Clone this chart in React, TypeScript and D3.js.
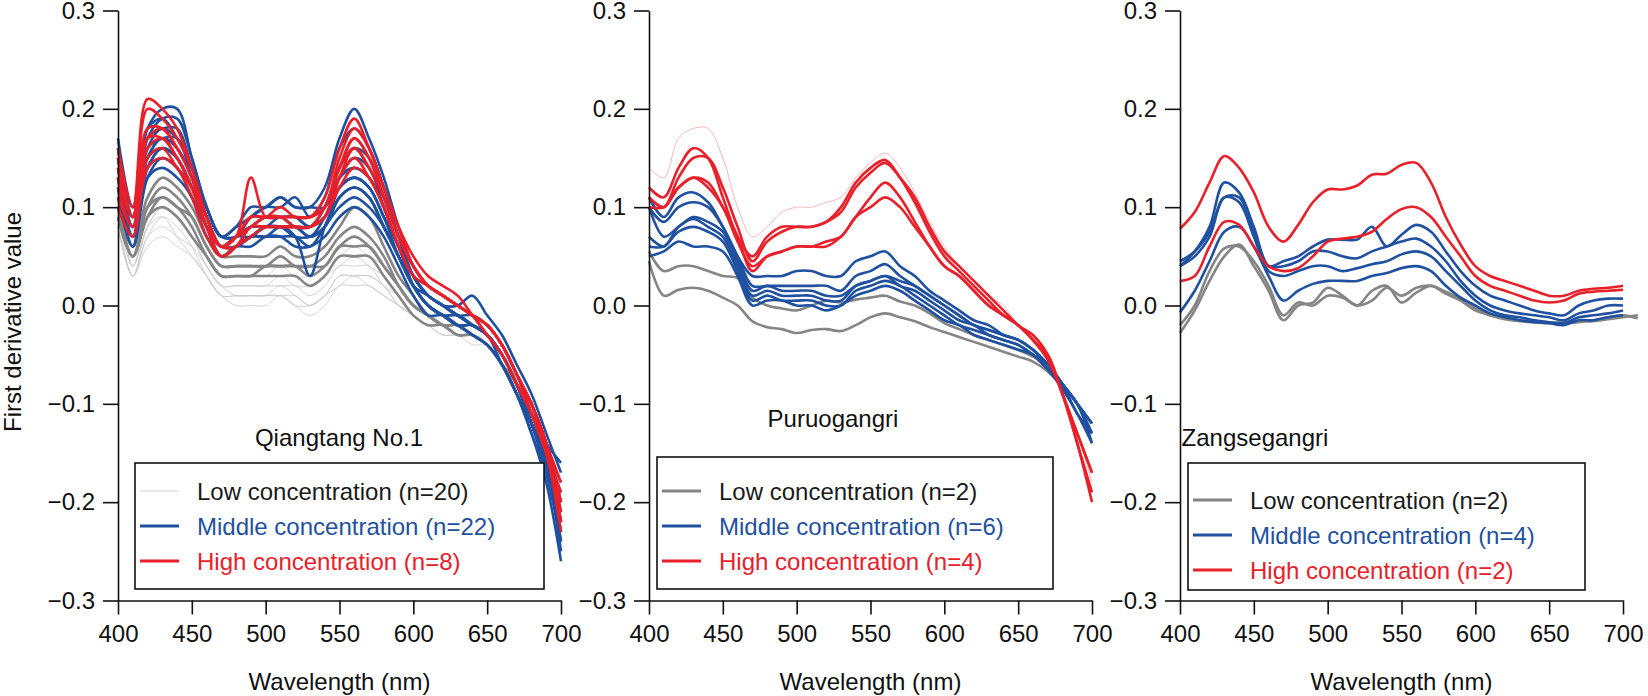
import React, { useEffect, useRef } from 'react';
import * as d3 from 'd3';

// wavelength grid (nm); most series stop at 700, a few run one step past it
const WAVELENGTHS = [400, 410, 420, 430, 440, 450, 460, 470, 480, 490, 500, 510, 520, 530, 540, 550, 560, 570, 580, 590, 600, 610, 620, 630, 640, 650, 660, 670, 680, 690, 700, 710];
const X_TICKS = [400, 450, 500, 550, 600, 650, 700];
const Y_TICKS = [-0.3, -0.2, -0.1, 0.0, 0.1, 0.2, 0.3];

const PANEL_TITLES = ['Qiangtang No.1', 'Puruogangri', 'Zangsegangri'];
const LOW_LABELS = ['Low concentration (n=20)', 'Low concentration (n=2)', 'Low concentration (n=2)'];
const MID_LABELS = ['Middle concentration (n=22)', 'Middle concentration (n=6)', 'Middle concentration (n=4)'];
const HIGH_LABELS = ['High concentration (n=8)', 'High concentration (n=4)', 'High concentration (n=2)'];

// Qiangtang No.1
const QT_LOW_THIN = [
  [0.09, 0.03, 0.08, 0.10, 0.09, 0.07, 0.04, 0.02, 0.02, 0.02, 0.02, 0.03, 0.02, 0.02, 0.03, 0.04, 0.05, 0.04, 0.03, 0.01, -0.01, -0.02, -0.02, -0.03, -0.03, -0.04, -0.06, -0.09, -0.12, -0.16, -0.20],
  [0.08, 0.03, 0.07, 0.09, 0.08, 0.06, 0.03, 0.01, 0.01, 0.01, 0.01, 0.02, 0.01, 0.00, 0.01, 0.03, 0.03, 0.03, 0.02, 0.00, -0.01, -0.02, -0.02, -0.03, -0.03, -0.04, -0.06, -0.09, -0.12, -0.16, -0.19],
  [0.12, 0.04, 0.08, 0.09, 0.07, 0.05, 0.03, 0.01, 0.01, 0.01, 0.01, 0.01, 0.00, 0.00, 0.01, 0.02, 0.03, 0.02, 0.01, 0.00, -0.01, -0.02, -0.02, -0.03, -0.03, -0.04, -0.06, -0.09, -0.13, -0.17, -0.21],
  [0.09, 0.04, 0.09, 0.11, 0.10, 0.08, 0.05, 0.03, 0.03, 0.03, 0.03, 0.04, 0.03, 0.03, 0.04, 0.05, 0.06, 0.05, 0.04, 0.02, 0.00, -0.01, -0.02, -0.02, -0.03, -0.04, -0.06, -0.09, -0.12, -0.16, -0.22],
  [0.08, 0.03, 0.06, 0.07, 0.06, 0.05, 0.03, 0.01, 0.00, 0.00, 0.00, 0.01, 0.00, -0.01, 0.00, 0.02, 0.02, 0.02, 0.01, 0.00, -0.01, -0.02, -0.03, -0.03, -0.04, -0.04, -0.06, -0.09, -0.12, -0.16, -0.20],
  [0.14, 0.04, 0.08, 0.10, 0.09, 0.07, 0.04, 0.02, 0.02, 0.02, 0.02, 0.02, 0.02, 0.01, 0.02, 0.04, 0.04, 0.04, 0.02, 0.01, -0.01, -0.02, -0.02, -0.03, -0.03, -0.04, -0.06, -0.09, -0.12, -0.16, -0.20],
  [0.10, 0.05, 0.09, 0.11, 0.10, 0.08, 0.05, 0.03, 0.03, 0.03, 0.03, 0.03, 0.03, 0.02, 0.03, 0.05, 0.05, 0.05, 0.03, 0.01, -0.01, -0.02, -0.02, -0.03, -0.03, -0.04, -0.06, -0.09, -0.12, -0.16, -0.20],
  [0.08, 0.03, 0.07, 0.08, 0.07, 0.06, 0.04, 0.02, 0.01, 0.01, 0.01, 0.01, 0.01, 0.00, 0.01, 0.03, 0.03, 0.03, 0.02, 0.00, -0.01, -0.02, -0.03, -0.03, -0.03, -0.04, -0.06, -0.09, -0.12, -0.16, -0.19],
];
const QT_LOW = [
  [0.10, 0.06, 0.11, 0.13, 0.12, 0.10, 0.07, 0.05, 0.05, 0.05, 0.05, 0.06, 0.05, 0.05, 0.06, 0.08, 0.10, 0.09, 0.06, 0.03, 0.01, -0.01, -0.02, -0.02, -0.03, -0.04, -0.06, -0.08, -0.12, -0.16, -0.20],
  [0.10, 0.05, 0.10, 0.12, 0.11, 0.09, 0.06, 0.04, 0.04, 0.04, 0.04, 0.05, 0.04, 0.04, 0.05, 0.07, 0.08, 0.07, 0.05, 0.02, 0.00, -0.01, -0.02, -0.02, -0.03, -0.04, -0.06, -0.08, -0.12, -0.16, -0.19],
  [0.09, 0.05, 0.09, 0.11, 0.10, 0.08, 0.05, 0.03, 0.03, 0.03, 0.04, 0.04, 0.04, 0.03, 0.04, 0.06, 0.07, 0.06, 0.04, 0.02, 0.00, -0.01, -0.02, -0.03, -0.03, -0.04, -0.06, -0.09, -0.12, -0.16, -0.20],
  [0.09, 0.05, 0.09, 0.10, 0.09, 0.07, 0.05, 0.03, 0.03, 0.03, 0.03, 0.03, 0.03, 0.02, 0.03, 0.05, 0.05, 0.05, 0.03, 0.01, -0.01, -0.02, -0.02, -0.03, -0.03, -0.04, -0.06, -0.09, -0.12, -0.16, -0.21],
  [0.10, 0.06, 0.10, 0.11, 0.10, 0.09, 0.06, 0.04, 0.04, 0.04, 0.04, 0.04, 0.04, 0.04, 0.04, 0.06, 0.06, 0.06, 0.04, 0.02, 0.00, -0.01, -0.02, -0.02, -0.03, -0.04, -0.06, -0.09, -0.12, -0.15, -0.18],
];
const QT_MID = [
  [0.17, 0.10, 0.18, 0.20, 0.20, 0.15, 0.10, 0.07, 0.08, 0.09, 0.10, 0.11, 0.10, 0.10, 0.12, 0.17, 0.20, 0.17, 0.13, 0.08, 0.04, 0.02, 0.01, 0.00, -0.01, -0.02, -0.04, -0.07, -0.10, -0.14, -0.20],
  [0.15, 0.09, 0.17, 0.19, 0.19, 0.15, 0.10, 0.07, 0.07, 0.09, 0.10, 0.10, 0.11, 0.09, 0.11, 0.16, 0.18, 0.16, 0.12, 0.07, 0.03, 0.01, 0.00, -0.01, -0.01, -0.02, -0.04, -0.07, -0.11, -0.15, -0.22],
  [0.14, 0.08, 0.16, 0.18, 0.17, 0.14, 0.09, 0.06, 0.07, 0.08, 0.09, 0.09, 0.09, 0.08, 0.10, 0.14, 0.16, 0.15, 0.11, 0.07, 0.03, 0.01, 0.00, -0.01, -0.02, -0.03, -0.05, -0.08, -0.11, -0.16, -0.25],
  [0.13, 0.07, 0.15, 0.17, 0.16, 0.13, 0.09, 0.06, 0.07, 0.08, 0.08, 0.09, 0.08, 0.08, 0.09, 0.13, 0.14, 0.13, 0.10, 0.06, 0.03, 0.01, 0.00, -0.01, -0.02, -0.03, -0.05, -0.08, -0.12, -0.16, -0.23],
  [0.12, 0.07, 0.14, 0.16, 0.15, 0.12, 0.08, 0.06, 0.06, 0.07, 0.08, 0.08, 0.08, 0.07, 0.09, 0.12, 0.13, 0.12, 0.09, 0.06, 0.02, 0.00, -0.01, -0.01, -0.02, -0.03, -0.05, -0.08, -0.11, -0.15, -0.19],
  [0.16, 0.09, 0.17, 0.18, 0.18, 0.14, 0.10, 0.07, 0.07, 0.08, 0.09, 0.09, 0.09, 0.08, 0.10, 0.13, 0.14, 0.13, 0.10, 0.06, 0.03, 0.01, 0.00, -0.01, -0.02, -0.03, -0.05, -0.08, -0.12, -0.17, -0.24],
  [0.11, 0.06, 0.13, 0.15, 0.14, 0.12, 0.08, 0.05, 0.06, 0.07, 0.07, 0.08, 0.07, 0.03, 0.08, 0.11, 0.12, 0.11, 0.08, 0.05, 0.02, 0.00, -0.01, -0.02, -0.02, -0.03, -0.05, -0.08, -0.12, -0.16, -0.22],
  [0.13, 0.08, 0.15, 0.17, 0.16, 0.13, 0.09, 0.06, 0.07, 0.08, 0.08, 0.08, 0.08, 0.07, 0.08, 0.11, 0.12, 0.11, 0.08, 0.05, 0.02, 0.00, -0.01, -0.02, -0.03, -0.04, -0.06, -0.09, -0.13, -0.18, -0.26],
  [0.12, 0.08, 0.14, 0.15, 0.14, 0.11, 0.08, 0.05, 0.06, 0.07, 0.07, 0.07, 0.07, 0.06, 0.08, 0.10, 0.11, 0.10, 0.08, 0.05, 0.02, 0.00, -0.01, -0.02, -0.02, -0.03, -0.05, -0.08, -0.12, -0.16, -0.21],
  [0.15, 0.09, 0.16, 0.17, 0.17, 0.13, 0.09, 0.06, 0.07, 0.07, 0.08, 0.08, 0.08, 0.08, 0.09, 0.12, 0.13, 0.12, 0.09, 0.06, 0.02, 0.00, -0.01, -0.02, -0.02, -0.03, -0.05, -0.08, -0.11, -0.14, -0.16],
  [0.14, 0.08, 0.15, 0.16, 0.15, 0.12, 0.08, 0.05, 0.06, 0.07, 0.08, 0.08, 0.07, 0.07, 0.08, 0.11, 0.12, 0.11, 0.08, 0.05, 0.02, 0.01, 0.00, 0.00, 0.01, -0.01, -0.03, -0.06, -0.09, -0.13, -0.17],
  [0.12, 0.06, 0.13, 0.14, 0.13, 0.11, 0.07, 0.05, 0.06, 0.06, 0.07, 0.07, 0.06, 0.06, 0.07, 0.09, 0.10, 0.09, 0.07, 0.04, 0.01, -0.01, -0.01, -0.02, -0.03, -0.04, -0.06, -0.09, -0.13, -0.17, -0.23],
  [0.16, 0.10, 0.18, 0.19, 0.17, 0.14, 0.10, 0.07, 0.08, 0.10, 0.10, 0.11, 0.10, 0.10, 0.10, 0.13, 0.15, 0.14, 0.10, 0.06, 0.03, 0.01, 0.00, -0.01, -0.02, -0.03, -0.05, -0.08, -0.12, -0.16, -0.20],
  [0.13, 0.07, 0.14, 0.16, 0.15, 0.12, 0.08, 0.06, 0.06, 0.07, 0.08, 0.08, 0.08, 0.07, 0.08, 0.12, 0.13, 0.12, 0.09, 0.05, 0.02, 0.00, -0.01, -0.01, -0.02, -0.03, -0.06, -0.09, -0.12, -0.16, -0.24],
];
const QT_HIGH = [
  [0.16, 0.10, 0.21, 0.20, 0.18, 0.14, 0.09, 0.06, 0.07, 0.13, 0.09, 0.09, 0.09, 0.09, 0.11, 0.16, 0.19, 0.16, 0.12, 0.08, 0.05, 0.03, 0.02, 0.01, -0.01, -0.03, -0.05, -0.08, -0.11, -0.15, -0.22],
  [0.14, 0.09, 0.20, 0.19, 0.17, 0.14, 0.09, 0.06, 0.07, 0.09, 0.09, 0.09, 0.09, 0.09, 0.10, 0.15, 0.18, 0.16, 0.12, 0.08, 0.04, 0.02, 0.01, 0.00, -0.01, -0.02, -0.04, -0.07, -0.10, -0.15, -0.20],
  [0.13, 0.09, 0.18, 0.18, 0.16, 0.13, 0.08, 0.06, 0.07, 0.08, 0.09, 0.09, 0.08, 0.08, 0.10, 0.14, 0.17, 0.15, 0.11, 0.07, 0.04, 0.02, 0.01, 0.00, -0.01, -0.02, -0.04, -0.07, -0.11, -0.15, -0.23],
  [0.12, 0.08, 0.16, 0.17, 0.15, 0.12, 0.08, 0.05, 0.06, 0.08, 0.08, 0.08, 0.08, 0.08, 0.09, 0.13, 0.16, 0.14, 0.11, 0.07, 0.04, 0.02, 0.01, 0.00, -0.01, -0.02, -0.04, -0.07, -0.10, -0.14, -0.18],
  [0.11, 0.08, 0.15, 0.16, 0.14, 0.12, 0.08, 0.06, 0.06, 0.08, 0.08, 0.08, 0.08, 0.08, 0.09, 0.13, 0.15, 0.13, 0.10, 0.06, 0.03, 0.02, 0.01, 0.00, -0.01, -0.02, -0.04, -0.07, -0.10, -0.14, -0.21],
  [0.15, 0.09, 0.17, 0.18, 0.16, 0.13, 0.09, 0.06, 0.07, 0.09, 0.09, 0.10, 0.09, 0.09, 0.10, 0.14, 0.17, 0.15, 0.11, 0.07, 0.04, 0.02, 0.01, 0.00, -0.01, -0.03, -0.05, -0.08, -0.11, -0.15, -0.19],
  [0.10, 0.07, 0.14, 0.15, 0.14, 0.11, 0.07, 0.05, 0.06, 0.07, 0.08, 0.08, 0.08, 0.08, 0.09, 0.12, 0.14, 0.13, 0.10, 0.06, 0.03, 0.02, 0.01, 0.00, -0.01, -0.02, -0.04, -0.07, -0.10, -0.14, -0.22],
  [0.13, 0.09, 0.17, 0.17, 0.15, 0.12, 0.08, 0.06, 0.07, 0.08, 0.09, 0.09, 0.09, 0.09, 0.10, 0.14, 0.16, 0.14, 0.11, 0.07, 0.04, 0.02, 0.01, 0.00, -0.01, -0.02, -0.04, -0.07, -0.10, -0.14, -0.20],
];

// Puruogangri
const PR_LOW = [
  [0.055, 0.035, 0.04, 0.04, 0.035, 0.03, 0.028, 0.008, 0.0, -0.003, -0.005, 0.0, 0.005, 0.003, 0.006, 0.008, 0.01, 0.004, 0.0, -0.008, -0.018, -0.024, -0.03, -0.035, -0.04, -0.045, -0.052, -0.062, -0.08, -0.10, -0.12],
  [0.045, 0.01, 0.016, 0.018, 0.015, 0.008, 0.0, -0.016, -0.022, -0.024, -0.028, -0.025, -0.024, -0.026, -0.02, -0.012, -0.008, -0.012, -0.016, -0.022, -0.027, -0.032, -0.037, -0.042, -0.047, -0.052, -0.057, -0.067, -0.082, -0.10, -0.13],
];
const PR_MID = [
  [0.11, 0.09, 0.11, 0.115, 0.105, 0.08, 0.05, 0.03, 0.03, 0.03, 0.035, 0.035, 0.03, 0.03, 0.045, 0.05, 0.055, 0.04, 0.03, 0.015, 0.005, -0.005, -0.015, -0.02, -0.03, -0.035, -0.045, -0.06, -0.08, -0.10, -0.12],
  [0.10, 0.085, 0.10, 0.105, 0.10, 0.08, 0.05, 0.02, 0.02, 0.02, 0.02, 0.02, 0.02, 0.015, 0.03, 0.035, 0.042, 0.03, 0.02, 0.01, 0.0, -0.01, -0.02, -0.025, -0.03, -0.035, -0.045, -0.06, -0.08, -0.10, -0.13],
  [0.10, 0.07, 0.08, 0.09, 0.085, 0.075, 0.045, 0.015, 0.02, 0.015, 0.015, 0.015, 0.01, 0.01, 0.02, 0.025, 0.03, 0.025, 0.02, 0.01, 0.0, -0.01, -0.02, -0.025, -0.03, -0.035, -0.045, -0.06, -0.08, -0.10, -0.14],
  [0.07, 0.06, 0.08, 0.088, 0.08, 0.07, 0.04, 0.01, 0.015, 0.01, 0.01, 0.01, 0.005, 0.005, 0.02, 0.025, 0.03, 0.02, 0.015, 0.005, -0.005, -0.015, -0.02, -0.03, -0.035, -0.04, -0.05, -0.06, -0.08, -0.11, -0.13],
  [0.06, 0.06, 0.075, 0.08, 0.075, 0.065, 0.035, 0.005, 0.01, 0.005, 0.005, 0.005, 0.0, 0.0, 0.015, 0.02, 0.025, 0.02, 0.01, 0.0, -0.01, -0.02, -0.025, -0.03, -0.035, -0.04, -0.05, -0.065, -0.08, -0.10, -0.12],
  [0.05, 0.055, 0.065, 0.06, 0.06, 0.055, 0.03, 0.0, 0.005, 0.005, 0.0, 0.0, -0.005, 0.0, 0.01, 0.015, 0.02, 0.015, 0.005, -0.005, -0.015, -0.02, -0.03, -0.035, -0.04, -0.045, -0.05, -0.065, -0.085, -0.11, -0.14],
];
const PR_HIGH_THIN = [
  [0.14, 0.13, 0.17, 0.18, 0.18, 0.15, 0.10, 0.07, 0.08, 0.095, 0.10, 0.10, 0.105, 0.11, 0.13, 0.145, 0.155, 0.14, 0.115, 0.085, 0.06, 0.04, 0.025, 0.01, 0.0, -0.02, -0.03, -0.05, -0.09, -0.13, -0.18],
];
const PR_HIGH = [
  [0.12, 0.11, 0.14, 0.16, 0.15, 0.11, 0.07, 0.05, 0.07, 0.08, 0.08, 0.08, 0.085, 0.10, 0.125, 0.14, 0.148, 0.13, 0.105, 0.075, 0.05, 0.035, 0.02, 0.005, -0.01, -0.02, -0.035, -0.05, -0.09, -0.13, -0.17],
  [0.11, 0.10, 0.13, 0.15, 0.15, 0.12, 0.08, 0.045, 0.065, 0.075, 0.08, 0.08, 0.085, 0.095, 0.12, 0.135, 0.145, 0.13, 0.11, 0.08, 0.055, 0.04, 0.025, 0.01, -0.005, -0.02, -0.03, -0.05, -0.09, -0.14, -0.20],
  [0.10, 0.10, 0.12, 0.13, 0.125, 0.10, 0.07, 0.035, 0.05, 0.055, 0.06, 0.06, 0.06, 0.07, 0.09, 0.11, 0.125, 0.11, 0.085, 0.06, 0.04, 0.03, 0.015, 0.0, -0.01, -0.02, -0.035, -0.055, -0.09, -0.13, -0.17],
  [0.11, 0.10, 0.12, 0.13, 0.12, 0.10, 0.065, 0.04, 0.05, 0.055, 0.06, 0.06, 0.065, 0.07, 0.09, 0.10, 0.11, 0.10, 0.08, 0.06, 0.04, 0.03, 0.015, 0.0, -0.01, -0.02, -0.035, -0.055, -0.09, -0.14, -0.19],
];

// Zangsegangri
const ZS_LOW = [
  [-0.028, -0.005, 0.025, 0.05, 0.062, 0.04, 0.015, -0.015, 0.0, 0.003, 0.018, 0.01, 0.0, 0.015, 0.02, 0.003, 0.013, 0.02, 0.012, 0.005, -0.005, -0.01, -0.013, -0.015, -0.016, -0.017, -0.018, -0.017, -0.015, -0.012, -0.01, -0.013],
  [-0.02, 0.0, 0.035, 0.058, 0.06, 0.045, 0.02, -0.01, 0.003, 0.0, 0.01, 0.008, 0.0, 0.005, 0.018, 0.01, 0.018, 0.02, 0.014, 0.006, -0.003, -0.01, -0.014, -0.016, -0.017, -0.018, -0.017, -0.016, -0.016, -0.014, -0.012, -0.01],
];
const ZS_MID = [
  [0.045, 0.055, 0.075, 0.11, 0.11, 0.075, 0.04, 0.045, 0.05, 0.06, 0.067, 0.067, 0.067, 0.08, 0.06, 0.072, 0.082, 0.075, 0.055, 0.035, 0.02, 0.01, 0.005, 0.0, -0.005, -0.008, -0.01, 0.0, 0.005, 0.007, 0.007],
  [0.04, 0.055, 0.08, 0.125, 0.115, 0.08, 0.04, 0.04, 0.045, 0.055, 0.055, 0.05, 0.048, 0.055, 0.06, 0.065, 0.068, 0.06, 0.045, 0.025, 0.01, 0.0, -0.005, -0.008, -0.01, -0.012, -0.015, -0.008, -0.005, 0.0, 0.0],
  [0.04, 0.05, 0.07, 0.11, 0.105, 0.07, 0.035, 0.03, 0.035, 0.04, 0.04, 0.035, 0.038, 0.042, 0.045, 0.052, 0.055, 0.05, 0.035, 0.02, 0.005, -0.005, -0.01, -0.012, -0.015, -0.017, -0.018, -0.012, -0.01, -0.008, -0.005],
  [-0.007, 0.015, 0.045, 0.075, 0.08, 0.06, 0.03, 0.005, 0.015, 0.022, 0.025, 0.025, 0.025, 0.03, 0.033, 0.038, 0.04, 0.035, 0.02, 0.008, 0.0, -0.008, -0.012, -0.015, -0.017, -0.018, -0.02, -0.015, -0.015, -0.012, -0.01],
];
const ZS_HIGH = [
  [0.078, 0.095, 0.125, 0.152, 0.14, 0.115, 0.08, 0.065, 0.082, 0.105, 0.118, 0.118, 0.122, 0.133, 0.134, 0.143, 0.145, 0.125, 0.09, 0.062, 0.04, 0.03, 0.025, 0.02, 0.015, 0.01, 0.01, 0.015, 0.017, 0.018, 0.02],
  [0.025, 0.03, 0.06, 0.085, 0.082, 0.06, 0.04, 0.035, 0.038, 0.05, 0.065, 0.068, 0.07, 0.075, 0.088, 0.098, 0.10, 0.09, 0.07, 0.05, 0.03, 0.02, 0.015, 0.01, 0.005, 0.003, 0.005, 0.012, 0.014, 0.015, 0.016],
];

const GREY = '#858585';
const GREY_THIN = '#c8c8c8';
const BLUE = '#1f51a0';
const RED = '#e8202a';
const PINK_THIN = '#f2a3a6';
const FONT = '"Liberation Sans", Arial, Helvetica, sans-serif';

const WIDTH = 1648;
const HEIGHT = 696;
const PLOT_TOP = 10.5;
const PLOT_BOTTOM = 600.5;
const PLOT_W = 443;

interface LineGroup { lines: number[][]; color: string; width: number }
interface Panel {
  left: number;
  title: string;
  titleX: number;
  titleY: number;
  box: [number, number, number, number];
  entryY: number[];
  groups: LineGroup[];
  legend: { label: string; color: string; textColor: string; width: number }[];
}

const panels: Panel[] = [
  {
    left: 118, title: PANEL_TITLES[0], titleX: 339, titleY: 446,
    box: [135, 463, 544, 589], entryY: [491, 526, 561],
    groups: [
      { lines: QT_LOW_THIN, color: GREY_THIN, width: 0.8 },
      { lines: QT_LOW, color: GREY, width: 2.6 },
      { lines: QT_MID, color: BLUE, width: 2.6 },
      { lines: QT_HIGH, color: RED, width: 2.6 },
    ],
    legend: [
      { label: LOW_LABELS[0], color: GREY_THIN, textColor: '#1a1a1a', width: 0.8 },
      { label: MID_LABELS[0], color: BLUE, textColor: BLUE, width: 3 },
      { label: HIGH_LABELS[0], color: RED, textColor: RED, width: 3 },
    ],
  },
  {
    left: 649, title: PANEL_TITLES[1], titleX: 833, titleY: 427,
    box: [657, 457, 1053, 589], entryY: [491, 526, 561],
    groups: [
      { lines: PR_LOW, color: GREY, width: 2.6 },
      { lines: PR_MID, color: BLUE, width: 2.6 },
      { lines: PR_HIGH_THIN, color: PINK_THIN, width: 0.8 },
      { lines: PR_HIGH, color: RED, width: 2.6 },
    ],
    legend: [
      { label: LOW_LABELS[1], color: GREY, textColor: '#1a1a1a', width: 3 },
      { label: MID_LABELS[1], color: BLUE, textColor: BLUE, width: 3 },
      { label: HIGH_LABELS[1], color: RED, textColor: RED, width: 3 },
    ],
  },
  {
    left: 1180, title: PANEL_TITLES[2], titleX: 1255, titleY: 446,
    box: [1188, 463, 1585, 590], entryY: [500, 535, 570],
    groups: [
      { lines: ZS_LOW, color: GREY, width: 2.6 },
      { lines: ZS_MID, color: BLUE, width: 2.6 },
      { lines: ZS_HIGH, color: RED, width: 2.6 },
    ],
    legend: [
      { label: LOW_LABELS[2], color: GREY, textColor: '#1a1a1a', width: 3 },
      { label: MID_LABELS[2], color: BLUE, textColor: BLUE, width: 3 },
      { label: HIGH_LABELS[2], color: RED, textColor: RED, width: 3 },
    ],
  },
];

const App: React.FC = () => {
  const svgRef = useRef<SVGSVGElement | null>(null);

  useEffect(() => {
    if (!svgRef.current) return;
    const svg = d3.select(svgRef.current);
    svg.selectAll('*').remove();

    const yScale = d3.scaleLinear().domain([-0.3, 0.3]).range([PLOT_BOTTOM, PLOT_TOP]);
    const fmt = d3.format('.1f');

    panels.forEach((p) => {
      const xScale = d3.scaleLinear().domain([400, 700]).range([p.left, p.left + PLOT_W]);
      const line = d3
        .line<number>()
        .x((_, i) => xScale(WAVELENGTHS[i]))
        .y((d) => yScale(d))
        .curve(d3.curveCatmullRom.alpha(0.5));

      const g = svg.append('g');

      p.groups.forEach((grp) => {
        g.selectAll(null)
          .data(grp.lines)
          .enter()
          .append('path')
          .attr('d', (d) => line(d))
          .attr('fill', 'none')
          .attr('stroke', grp.color)
          .attr('stroke-width', grp.width)
          .attr('stroke-linejoin', 'round');
      });

      // axes
      const xAxis = g.append('g').attr('transform', `translate(0,${PLOT_BOTTOM})`)
        .call(d3.axisBottom(xScale).tickValues(X_TICKS).tickSize(14).tickPadding(10).tickSizeOuter(0));
      const yAxis = g.append('g').attr('transform', `translate(${p.left},0)`)
        .call(d3.axisLeft(yScale).tickValues(Y_TICKS).tickFormat((d) => fmt(d as number)).tickSize(15).tickPadding(8).tickSizeOuter(0));
      [xAxis, yAxis].forEach((ax) => {
        ax.select('.domain').attr('stroke', '#111').attr('stroke-width', 1.6);
        ax.selectAll('.tick line').attr('stroke', '#111').attr('stroke-width', 1.6);
        ax.selectAll('.tick text').attr('fill', '#111').style('font-family', FONT).style('font-size', '24px');
      });

      g.append('text')
        .attr('x', p.left + PLOT_W / 2)
        .attr('y', 690)
        .attr('text-anchor', 'middle')
        .style('font-family', FONT)
        .style('font-size', '24px')
        .attr('fill', '#111')
        .text('Wavelength (nm)');

      // panel title
      g.append('text')
        .attr('x', p.titleX)
        .attr('y', p.titleY)
        .attr('text-anchor', 'middle')
        .style('font-family', FONT)
        .style('font-size', '24px')
        .attr('fill', '#111')
        .text(p.title);

      // legend
      const [bx0, by0, bx1, by1] = p.box;
      g.append('rect')
        .attr('x', bx0).attr('y', by0)
        .attr('width', bx1 - bx0).attr('height', by1 - by0)
        .attr('fill', 'white')
        .attr('stroke', '#111')
        .attr('stroke-width', 1.6);
      p.legend.forEach((e, i) => {
        const y = p.entryY[i];
        g.append('line')
          .attr('x1', bx0 + 5).attr('x2', bx0 + 44)
          .attr('y1', y).attr('y2', y)
          .attr('stroke', e.color)
          .attr('stroke-width', e.width);
        g.append('text')
          .attr('x', bx0 + 62)
          .attr('y', y + 8.5)
          .style('font-family', FONT)
          .style('font-size', '24px')
          .attr('fill', e.textColor)
          .text(e.label);
      });
    });

    svg.append('text')
      .attr('transform', `translate(21,322) rotate(-90)`)
      .attr('text-anchor', 'middle')
      .style('font-family', FONT)
      .style('font-size', '24px')
      .attr('fill', '#111')
      .text('First derivative value');
  }, []);

  return (
    <svg
      ref={svgRef}
      width={WIDTH}
      height={HEIGHT}
      style={{ position: 'absolute', left: 0, top: 0, background: 'white' }}
    />
  );
};

export default App;
